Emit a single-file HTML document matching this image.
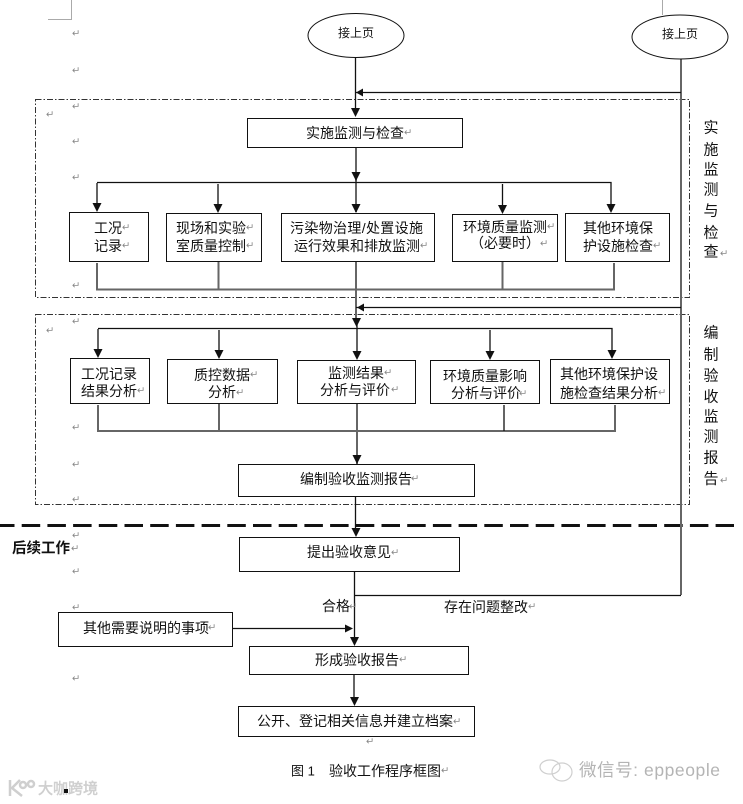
<!DOCTYPE html>
<html><head><meta charset="utf-8"><style>
html,body{margin:0;padding:0;background:#fff}
svg{display:block}
text{font-family:"Liberation Sans","Noto Sans CJK SC",sans-serif;font-size:14px;fill:#111;dominant-baseline:central}
.s{font-size:12px}
.v{font-size:15px;text-anchor:middle}
.r{font-family:"DejaVu Sans",sans-serif;font-size:10px;fill:#888}
.w{fill:#b4b4b4}
</style></head><body>
<svg width="743" height="804" viewBox="0 0 743 804" xmlns="http://www.w3.org/2000/svg">
<defs><polygon id="d" points="-4.500,-9 4.500,-9 0,0" fill="#111"/></defs>
<rect width="743" height="804" fill="#fff"/>
<path d="M48 19.500H71.500V0M662.500 0V15" fill="none" stroke="#aaa"/>

<!-- dash-dot frames -->
<g fill="none" stroke="#333" stroke-dasharray="6 2 1.500 2">
<rect x="35.500" y="99.500" width="654" height="198"/>
<rect x="35.500" y="314.500" width="654" height="190"/>
</g>

<!-- heavy dashed divider -->
<path d="M0 525.500H734" stroke="#111" stroke-width="3" fill="none" stroke-dasharray="18.500 7.200" stroke-dashoffset="4"/>

<!-- connectors -->
<g fill="none" stroke="#666" stroke-width="2">
<path d="M681 59V595"/>
<path d="M356 148V212M356 262V322"/>
<path d="M97 263V289.500H614V263M218.500 262V289M502.500 262V289"/>
<path d="M357 403V464M98 405V431H615V405M219 403V431"/>
<path d="M354 674V700"/>
</g>
<g fill="none" stroke="#111" stroke-width="1.300">
<path d="M355.500 57V112"/>
<path d="M356 92.500H681"/>
<path d="M356 307.500H681"/>
<path d="M97 182.500H611V208M97 183V208M218 184V208M502.500 184V208"/>
<path d="M98 328.500H612V352M98 329V352M219 330V352M490 330V352M357 322V352"/>
<path d="M504 405V431"/>
<path d="M355.500 497V530"/>
<path d="M354.500 571V640"/>
<path d="M355 595.500H681"/>
<path d="M232 628.500H346"/>
</g>

<!-- arrowheads -->
<use href="#d" x="355.500" y="117"/>
<polygon points="356,92.500 363,88.500 363,96.500" fill="#111"/>
<use href="#d" x="356" y="181"/>
<use href="#d" x="97" y="212"/><use href="#d" x="218" y="213"/><use href="#d" x="356" y="213"/><use href="#d" x="502.500" y="214"/><use href="#d" x="611" y="213"/>
<polygon points="357,307.500 364,303.500 364,311.500" fill="#111"/>
<use href="#d" x="356.500" y="327"/>
<use href="#d" x="98" y="358"/><use href="#d" x="219" y="359"/><use href="#d" x="357" y="360"/><use href="#d" x="490" y="360"/><use href="#d" x="612" y="359"/>
<use href="#d" x="357" y="464"/>
<use href="#d" x="356" y="537"/>
<polygon points="353,628.500 345,624.500 345,632.500" fill="#111"/>
<use href="#d" x="354.500" y="646"/>
<use href="#d" x="354.500" y="706"/>

<!-- shapes -->
<g fill="#fff" stroke="#111" stroke-width="1">
<ellipse cx="356" cy="35.500" rx="48" ry="22"/>
<ellipse cx="680" cy="37" rx="48" ry="22"/>
<rect x="247.500" y="118.500" width="215" height="29"/>
<rect x="69.500" y="212.500" width="79" height="49"/>
<rect x="166.500" y="213.500" width="95" height="48"/>
<rect x="281.500" y="213.500" width="153" height="48"/>
<rect x="452.500" y="214.500" width="105" height="47"/>
<rect x="565.500" y="213.500" width="104" height="48"/>
<rect x="70.500" y="358.500" width="79" height="45"/>
<rect x="167.500" y="359.500" width="110" height="44"/>
<rect x="297.500" y="360.500" width="118" height="43"/>
<rect x="430.500" y="360.500" width="109" height="43"/>
<rect x="550.500" y="359.500" width="119" height="44"/>
<rect x="238.500" y="464.500" width="236" height="32"/>
<rect x="239.500" y="537.500" width="220" height="34"/>
<rect x="58.500" y="612.500" width="174" height="34"/>
<rect x="249.500" y="646.500" width="219" height="28"/>
<rect x="238.500" y="706.500" width="236" height="30"/>
</g>

<!-- labels -->
<text class="s" x="338" y="33">接上页</text>
<text class="s" x="662" y="34">接上页</text>
<text x="306" y="133">实施监测与检查</text>
<text x="94" y="228">工况</text><text x="94" y="246">记录</text>
<text x="176" y="228">现场和实验</text><text x="176" y="246">室质量控制</text>
<text x="290" y="228" textLength="133">污染物治理/处置设施</text><text x="294" y="246">运行效果和排放监测</text>
<text x="463" y="227">环境质量监测</text><text x="470" y="243">（必要时）</text>
<text x="583" y="228">其他环境保</text><text x="583" y="246">护设施检查</text>
<text x="81" y="374">工况记录</text><text x="81" y="391">结果分析</text>
<text x="194" y="375">质控数据</text><text x="208" y="392">分析</text>
<text x="328" y="373">监测结果</text><text x="320" y="390">分析与评价</text>
<text x="443" y="376">环境质量影响</text><text x="451" y="393">分析与评价</text>
<text x="560" y="374">其他环境保护设</text><text x="560" y="393">施检查结果分析</text>
<text x="300" y="479">编制验收监测报告</text>
<text x="307" y="552">提出验收意见</text>
<text x="83" y="628">其他需要说明的事项</text>
<text x="315" y="660">形成验收报告</text>
<text x="257" y="721">公开、登记相关信息并建立档案</text>
<text x="322" y="606">合格</text>
<text x="444" y="607">存在问题整改</text>
<text x="12" y="549" style="font-weight:700;font-size:14.500px">后续工作</text>
<text x="291" y="771" style="font-size:13px">图 1</text>
<text x="329" y="771">验收工作程序框图</text>

<!-- vertical side labels -->
<text class="v" x="711" y="128">实</text><text class="v" x="711" y="150">施</text><text class="v" x="711" y="170">监</text><text class="v" x="711" y="190">测</text><text class="v" x="711" y="211">与</text><text class="v" x="711" y="233">检</text><text class="v" x="711" y="252">查</text>
<text class="v" x="711" y="333">编</text><text class="v" x="711" y="355">制</text><text class="v" x="711" y="376">验</text><text class="v" x="711" y="397">收</text><text class="v" x="711" y="417">监</text><text class="v" x="711" y="437">测</text><text class="v" x="711" y="458">报</text><text class="v" x="711" y="479">告</text>

<!-- paragraph marks -->
<g>
<text class="r" x="72" y="34">↵</text><text class="r" x="72" y="71">↵</text><text class="r" x="72" y="107">↵</text><text class="r" x="72" y="142">↵</text><text class="r" x="72" y="178">↵</text><text class="r" x="72" y="286">↵</text>
<text class="r" x="46" y="115">↵</text><text class="r" x="46" y="331">↵</text>
<text class="r" x="72" y="322">↵</text><text class="r" x="72" y="428">↵</text><text class="r" x="72" y="465">↵</text><text class="r" x="72" y="500">↵</text><text class="r" x="72" y="536">↵</text><text class="r" x="72" y="572">↵</text><text class="r" x="72" y="608">↵</text><text class="r" x="72" y="679">↵</text>
<text class="r" x="71" y="549">↵</text>
<text class="r" x="404" y="133">↵</text><text class="r" x="122" y="228">↵</text><text class="r" x="122" y="246">↵</text><text class="r" x="246" y="228">↵</text><text class="r" x="246" y="246">↵</text>
<text class="r" x="420" y="246">↵</text><text class="r" x="547" y="227">↵</text><text class="r" x="540" y="244">↵</text><text class="r" x="653" y="246">↵</text>
<text class="r" x="137" y="391">↵</text><text class="r" x="250" y="375">↵</text><text class="r" x="236" y="393">↵</text><text class="r" x="384" y="373">↵</text><text class="r" x="391" y="390">↵</text><text class="r" x="519" y="394">↵</text><text class="r" x="658" y="393">↵</text>
<text class="r" x="411" y="479">↵</text><text class="r" x="391" y="553">↵</text><text class="r" x="208" y="628">↵</text><text class="r" x="399" y="660">↵</text><text class="r" x="453" y="722">↵</text>
<text class="r" x="349" y="607">↵</text><text class="r" x="528" y="607">↵</text><text class="r" x="441" y="771">↵</text><text class="r" x="366" y="742">↵</text>
<text class="r" x="720" y="254">↵</text><text class="r" x="720" y="481">↵</text>
</g>

<!-- watermarks -->
<g fill="none" stroke="#cfcfcf" stroke-width="1.200">
<ellipse cx="550" cy="767" rx="10" ry="7"/>
<ellipse cx="562" cy="772" rx="10" ry="9"/>
</g>
<text class="w" x="579" y="770" textLength="141" style="font-size:17.500px">微信号: eppeople</text>
<g fill="none" stroke="#cfcfcf" stroke-width="2.500">
<path d="M10 780V796M20 780L12 788L22 796"/>
<circle cx="23" cy="785" r="3"/><circle cx="31" cy="784" r="3"/>
</g>
<text x="38" y="789" style="font-size:15px;fill:#cfcfcf;stroke:#cfcfcf;stroke-width:.5px">大咖跨境</text>
<rect x="64" y="789" width="4" height="4" fill="#111"/>
</svg>
</body></html>
